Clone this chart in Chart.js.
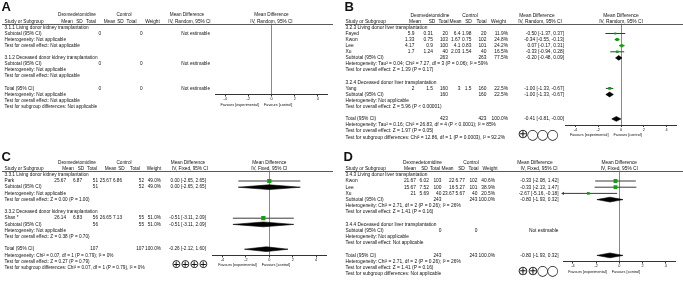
<!DOCTYPE html>
<html>
<head>
<meta charset="utf-8">
<script src="https://cdn.jsdelivr.net/npm/chart.js@4.4.1/dist/chart.umd.min.js"></script>
<style>
  html, body { margin: 0; padding: 0; background: #fff; }
  body { width: 683px; height: 302px; position: relative; overflow: hidden; }
  canvas { position: absolute; }
</style>
</head>
<body>
<canvas id="panelA" width="341" height="150" style="left:0;top:0"></canvas>
<canvas id="panelB" width="341" height="150" style="left:342px;top:0"></canvas>
<canvas id="panelC" width="341" height="152" style="left:0;top:150px"></canvas>
<canvas id="panelD" width="341" height="152" style="left:342px;top:150px"></canvas>
<script>
// ---------- Shared labels ----------
const HEAD_TOP = ['Dexmedetomidine', 'Control', 'Mean Difference'];
const HEAD_COLS = ['Study or Subgroup', 'Mean', 'SD', 'Total', 'Mean', 'SD', 'Total', 'Weight'];
const FAVOURS = ['Favours [experimental]', 'Favours [control]'];
const X_TICKS = [-4, -2, 0, 2, 4];

// ---------- Panel A: kidney, random effects (no studies) ----------
const aMethod = 'IV, Random, 95% CI';
const aGroups = ['3.1.1 Living donor kidney transplantation', '3.1.2 Deceased donor kidney transplantation'];
const aSubExpN = [0, 0];
const aSubCtlN = [0, 0];
const aSubWeight = [null, null];
const aSubMd = [null, null];
const aSubLo = [null, null];
const aSubHi = [null, null];
const aSubHet = ['Heterogeneity: Not applicable', 'Heterogeneity: Not applicable'];
const aSubTest = ['Test for overall effect: Not applicable', 'Test for overall effect: Not applicable'];
const aTotalN = [0, 0];
const aTotalEffect = [null, null, null];
const aTotalNotes = ['Heterogeneity: Not applicable', 'Test for overall effect: Not applicable',
  'Test for subgroup differences: Not applicable'];

// ---------- Panel B: liver, random effects ----------
const bMethod = 'IV, Random, 95% CI';
const bGroups = ['3.2.3 Living donor liver transplantation', '3.2.4 Deceased donor liver transplantation'];
const bStudy = ['Fayed', 'Kwon', 'Lee', 'Xu', 'Yang'];
const bGroupOf = [0, 0, 0, 0, 1];
const bExpMean = [5.9, 1.33, 4.17, 1.7, 2];
const bExpSd = [0.31, 0.75, 0.9, 1.24, 1.5];
const bExpN = [20, 103, 100, 40, 160];
const bCtlMean = [6.4, 1.67, 4.1, 2.03, 3];
const bCtlSd = [1.98, 0.75, 0.83, 1.54, 1.5];
const bCtlN = [20, 102, 101, 40, 160];
const bWeight = [11.9, 24.8, 24.2, 16.5, 22.5];
const bMd = [-0.50, -0.34, 0.07, -0.33, -1.00];
const bLo = [-1.37, -0.55, -0.17, -0.94, -1.33];
const bHi = [0.37, -0.13, 0.31, 0.28, -0.67];
const bSubExpN = [263, 160];
const bSubCtlN = [263, 160];
const bSubWeight = [77.5, 22.5];
const bSubMd = [-0.20, -1.00];
const bSubLo = [-0.48, -1.33];
const bSubHi = [0.09, -0.67];
const bSubHet = ['Heterogeneity: Tau² = 0.04; Chi² = 7.27, df = 3 (P = 0.06); I² = 59%', 'Heterogeneity: Not applicable'];
const bSubTest = ['Test for overall effect: Z = 1.39 (P = 0.17)', 'Test for overall effect: Z = 5.96 (P < 0.00001)'];
const bTotalN = [423, 423];
const bTotalEffect = [-0.41, -0.81, -0.003];
const bTotalNotes = ['Heterogeneity: Tau² = 0.16; Chi² = 26.83, df = 4 (P < 0.0001); I² = 85%',
  'Test for overall effect: Z = 1.97 (P = 0.05)',
  'Test for subgroup differences: Chi² = 12.86, df = 1 (P = 0.0003), I² = 92.2%'];
const bCertainty = 1;

// ---------- Panel C: kidney, fixed effect ----------
const cMethod = 'IV, Fixed, 95% CI';
const cGroups = ['3.3.1 Living donor kidney transplantation', '3.3.2 Deceased donor kidney transplantation'];
const cStudy = ['Park', 'Shan *'];
const cGroupOf = [0, 1];
const cExpMean = [25.67, 26.14];
const cExpSd = [6.87, 6.83];
const cExpN = [51, 56];
const cCtlMean = [25.67, 26.65];
const cCtlSd = [6.86, 7.13];
const cCtlN = [52, 55];
const cWeight = [49.0, 51.0];
const cMd = [0.00, -0.51];
const cLo = [-2.65, -3.11];
const cHi = [2.65, 2.09];
const cSubExpN = [51, 56];
const cSubCtlN = [52, 55];
const cSubWeight = [49.0, 51.0];
const cSubMd = [0.00, -0.51];
const cSubLo = [-2.65, -3.11];
const cSubHi = [2.65, 2.09];
const cSubHet = ['Heterogeneity: Not applicable', 'Heterogeneity: Not applicable'];
const cSubTest = ['Test for overall effect: Z = 0.00 (P = 1.00)', 'Test for overall effect: Z = 0.38 (P = 0.70)'];
const cTotalN = [107, 107];
const cTotalEffect = [-0.26, -2.12, 1.60];
const cTotalNotes = ['Heterogeneity: Chi² = 0.07, df = 1 (P = 0.79); I² = 0%',
  'Test for overall effect: Z = 0.27 (P = 0.79)',
  'Test for subgroup differences: Chi² = 0.07, df = 1 (P = 0.79), I² = 0%'];
const cCertainty = 4;

// ---------- Panel D: liver, fixed effect ----------
const dMethod = 'IV, Fixed, 95% CI';
const dGroups = ['3.4.3 Living donor liver transplantation', '3.4.4 Deceased donor liver transplantation'];
const dStudy = ['Kwon', 'Lee', 'Xu'];
const dGroupOf = [0, 0, 0];
const dExpMean = [21.67, 15.67, 21];
const dExpSd = [6.02, 7.52, 5.69];
const dExpN = [103, 100, 40];
const dCtlMean = [22, 16, 23.67];
const dCtlSd = [6.77, 5.27, 5.67];
const dCtlN = [102, 101, 40];
const dWeight = [40.6, 38.9, 20.5];
const dMd = [-0.33, -0.33, -2.67];
const dLo = [-2.08, -2.13, -5.16];
const dHi = [1.42, 1.47, -0.18];
const dSubExpN = [243, 0];
const dSubCtlN = [243, 0];
const dSubWeight = [100.0, null];
const dSubMd = [-0.80, null];
const dSubLo = [-1.93, null];
const dSubHi = [0.32, null];
const dSubHet = ['Heterogeneity: Chi² = 2.71, df = 2 (P = 0.26); I² = 26%', 'Heterogeneity: Not applicable'];
const dSubTest = ['Test for overall effect: Z = 1.41 (P = 0.16)', 'Test for overall effect: Not applicable'];
const dTotalN = [243, 243];
const dTotalEffect = [-0.80, -1.93, 0.32];
const dTotalNotes = ['Heterogeneity: Chi² = 2.71, df = 2 (P = 0.26); I² = 26%',
  'Test for overall effect: Z = 1.41 (P = 0.16)',
  'Test for subgroup differences: Not applicable'];
const dCertainty = 2;

// ---------- Look ----------
const FAMILY = '"Liberation Sans", Arial, sans-serif';
const SMALL = 3.8;
const GREEN = '#12a012';
const INK = '#111';
const X_MAX = 4.85;     // axis runs a bit past the outer ticks
const Y_MIN = 0.38;     // header rule sits just above row 1
const AXIS_H = 20;

Chart.defaults.font.family = FAMILY;

// per-panel geometry (canvas-relative px)
const layoutA = { letter: 'A', font: 4.7, w: 341, h: 150, y1: 27.4, rowH: 6.1, unit: 11.6, zeroX: 271.5, nameX: 4.5, letterX: 1.5, letterY: 10.5, lineX: [2, 333],
  cols: { n1: 101, n2: 142.5, ci: 210 },
  heads: { exp: 77, ctl: 124, md: 187, mean1: 67, sd1: 79.5, n1: 91, mean2: 109.5, sd2: 120.5, n2: 131.5, weight: 152.5, ci: 189.5 } };
const layoutB = { letter: 'B', font: 4.85, w: 341, h: 150, y1: 27.4, rowH: 6.1, unit: 11.4, zeroX: 279, nameX: 3.5, letterX: 2.5, letterY: 10.5, lineX: [3, 341],
  cols: { mean1: 72.5, sd1: 91, n1: 106, mean2: 118.5, sd2: 129.5, n2: 144.5, weight: 166, ci: 222 },
  heads: { exp: 88, ctl: 128, md: 195, mean1: 73, sd1: 90, n1: 101.5, mean2: 113.5, sd2: 126.5, n2: 139.5, weight: 156.5, ci: 198 },
  gradeX: 176, gradePitch: 10 };
const layoutC = { letter: 'C', font: 4.7, w: 341, h: 152, y1: 24.8, rowH: 6.2, unit: 11.7, zeroX: 269.3, nameX: 4.5, letterX: 1.5, letterY: 11, lineX: [2, 333],
  cols: { mean1: 66, sd1: 82, n1: 98, mean2: 111.5, sd2: 122, n2: 144, weight: 161, ci: 206 },
  heads: { exp: 77, ctl: 124, md: 188, mean1: 68, sd1: 81, n1: 92, mean2: 110.5, sd2: 121.5, n2: 135, weight: 154, ci: 190 },
  gradeX: 172, gradePitch: 9 };
const layoutD = { letter: 'D', font: 4.85, w: 341, h: 152, y1: 24.8, rowH: 6.2, unit: 11.6, zeroX: 277.3, nameX: 3.5, letterX: 1.5, letterY: 11, lineX: [3, 341],
  cols: { mean1: 74, sd1: 87, n1: 99.5, mean2: 112.5, sd2: 123, n2: 135.5, weight: 153, ci: 216.5 },
  heads: { exp: 80.5, ctl: 129, md: 193, mean1: 68, sd1: 82.5, n1: 93, mean2: 105.5, sd2: 119.5, n2: 131.5, weight: 148, ci: 197 },
  gradeX: 176, gradePitch: 10 };

// ---------- Row builder ----------
function ciText(m, lo, hi) {
  return `${m.toFixed(2)} [${lo.toFixed(2)}, ${hi.toFixed(2)}]`;
}

function buildRows(d) {
  const rows = [], studies = [], diamonds = [];
  let r = 1;
  const summary = (label, n1, n2, w, m, lo, hi) => {
    const cells = { name: label, n1: String(n1), n2: String(n2) };
    if (m === null) {
      cells.ci = 'Not estimable';
    } else {
      cells.weight = w.toFixed(1) + '%';
      cells.ci = ciText(m, lo, hi);
      diamonds.push({ r, m, lo, hi });
    }
    rows.push({ r, cells });
  };

  d.groups.forEach((g, gi) => {
    rows.push({ r: r++, cells: { name: g } });
    d.study.forEach((s, i) => {
      if (d.groupOf[i] !== gi) return;
      rows.push({ r, cells: {
        name: s,
        mean1: String(d.expMean[i]), sd1: String(d.expSd[i]), n1: String(d.expN[i]),
        mean2: String(d.ctlMean[i]), sd2: String(d.ctlSd[i]), n2: String(d.ctlN[i]),
        weight: d.weight[i].toFixed(1) + '%',
        ci: ciText(d.md[i], d.lo[i], d.hi[i])
      } });
      studies.push({ r, m: d.md[i], lo: d.lo[i], hi: d.hi[i], w: d.weight[i] });
      r++;
    });
    summary('Subtotal (95% CI)', d.subExpN[gi], d.subCtlN[gi], d.subWeight[gi], d.subMd[gi], d.subLo[gi], d.subHi[gi]);
    r++;
    rows.push({ r: r++, cells: { name: d.subHet[gi] } });
    rows.push({ r: r++, cells: { name: d.subTest[gi] } });
    r++; // blank line
  });

  const totalRow = r;
  const [tm, tlo, thi] = d.totalEffect;
  summary('Total (95% CI)', d.totalN[0], d.totalN[1], tm === null ? null : 100, tm, tlo, thi);
  r++;
  d.totalNotes.forEach(t => rows.push({ r: r++, cells: { name: t } }));
  return { rows, studies, diamonds, totalRow };
}

// ---------- Table text plugin ----------
function tablePlugin(d, lay, built) {
  return {
    id: 'forestTable',
    afterDraw(chart) {
      const { ctx, chartArea, scales: { x, y } } = chart;
      const zx = x.getPixelForValue(0);
      const axisY = chartArea.bottom;
      const body = `${lay.font}px ${FAMILY}`;
      const put = (t, px, py, align, font) => {
        ctx.font = font;
        ctx.textAlign = align;
        ctx.fillText(t, px, py);
      };

      ctx.save();
      ctx.fillStyle = INK;

      // panel letter
      ctx.textBaseline = 'alphabetic';
      put(lay.letter, lay.letterX, lay.letterY, 'left', `bold 13px ${FAMILY}`);

      ctx.textBaseline = 'middle';
      // header rows
      const h = lay.heads, yTop = y.getPixelForValue(-1), yCols = y.getPixelForValue(0);
      put(HEAD_TOP[0], h.exp, yTop, 'center', body);
      put(HEAD_TOP[1], h.ctl, yTop, 'center', body);
      put(HEAD_TOP[2], h.md, yTop, 'center', body);
      put(HEAD_TOP[2], zx, yTop, 'center', body);
      put(HEAD_COLS[0], lay.nameX, yCols, 'left', body);
      ['mean1', 'sd1', 'n1', 'mean2', 'sd2', 'n2', 'weight'].forEach((k, i) => {
        put(HEAD_COLS[i + 1], h[k], yCols, 'center', body);
      });
      put(d.method, h.ci, yCols, 'center', body);
      put(d.method, zx, yCols, 'center', body);

      // header rule
      ctx.strokeStyle = '#5a5a5a';
      ctx.lineWidth = 1;
      ctx.beginPath();
      const ly = Math.round(chartArea.top) + 0.5;
      ctx.moveTo(lay.lineX[0], ly);
      ctx.lineTo(lay.lineX[1], ly);
      ctx.stroke();

      // body rows
      built.rows.forEach(row => {
        const py = y.getPixelForValue(row.r);
        Object.entries(row.cells).forEach(([k, t]) => {
          if (k === 'name') put(t, lay.nameX, py, 'left', body);
          else put(t, lay.cols[k], py, 'right', body);
        });
      });

      // favours labels under the axis
      const fy = axisY + 10;
      put(FAVOURS[0], zx - 12.5, fy, 'right', `${SMALL}px ${FAMILY}`);
      put(FAVOURS[1], zx - 7.5, fy, 'left', `${SMALL}px ${FAMILY}`);

      // GRADE certainty symbols
      if (d.certainty) {
        ctx.textAlign = 'center';
        for (let i = 0; i < 4; i++) {
          const plus = i < d.certainty;
          ctx.font = `${plus ? lay.gradePitch * 1.3 : lay.gradePitch * 1.05}px "DejaVu Sans"`;
          ctx.fillText(plus ? '⊕' : '◯', lay.gradeX + lay.gradePitch * (i + 0.5), fy);
        }
      }
      ctx.restore();
    }
  };
}

// ---------- Forest chart ----------
function forestChart(id, d, lay) {
  const built = buildRows(d);
  const axisRow = built.totalRow + 1;
  const top = lay.y1 - (1 - Y_MIN) * lay.rowH;
  const bottom = lay.y1 + (axisRow - 1) * lay.rowH;
  const left = lay.zeroX - X_MAX * lay.unit;
  const right = lay.zeroX + X_MAX * lay.unit;
  const half = 2.4 / lay.rowH;

  const datasets = [];
  built.studies.forEach(s => {
    datasets.push({
      data: [{ x: Math.max(s.lo, -X_MAX), y: s.r }, { x: Math.min(s.hi, X_MAX), y: s.r }],
      showLine: true, borderColor: '#3a3a3a', borderWidth: 1, pointRadius: 0, order: 2
    });
    if (s.lo < -X_MAX) {
      datasets.push({
        data: [{ x: -X_MAX, y: s.r }], pointStyle: 'triangle', rotation: -90, pointRadius: 1.8,
        backgroundColor: '#3a3a3a', borderWidth: 0, clip: false, order: 1
      });
    }
    datasets.push({
      data: [{ x: s.m, y: s.r }], pointStyle: 'rect', pointRadius: 0.6 * Math.sqrt(s.w) / Math.SQRT2,
      backgroundColor: GREEN, borderWidth: 0, order: 0
    });
  });
  built.diamonds.forEach(m => {
    datasets.push({
      data: [{ x: m.lo, y: m.r }, { x: m.m, y: m.r - half }, { x: m.hi, y: m.r }, { x: m.m, y: m.r + half }, { x: m.lo, y: m.r }],
      showLine: true, fill: 'shape', backgroundColor: '#000', borderColor: '#000', borderWidth: 0.6,
      pointRadius: 0, order: 0
    });
  });

  return new Chart(document.getElementById(id), {
    type: 'scatter',
    data: { datasets },
    options: {
      responsive: false,
      animation: false,
      events: [],
      layout: { padding: { left, right: lay.w - right, top, bottom: lay.h - bottom - AXIS_H } },
      plugins: { legend: { display: false }, tooltip: { enabled: false } },
      scales: {
        x: {
          type: 'linear', min: -X_MAX, max: X_MAX,
          afterBuildTicks: sc => { sc.ticks = X_TICKS.map(v => ({ value: v })); },
          afterFit: sc => { sc.height = AXIS_H; },
          ticks: { font: { size: SMALL }, color: '#222', padding: 0.5, maxRotation: 0, autoSkip: false, callback: v => String(v) },
          grid: {
            color: c => (c.tick && c.tick.value === 0) ? '#8a8a8a' : 'rgba(0,0,0,0)',
            tickColor: '#333', tickLength: 2, drawTicks: true
          },
          border: { display: true, color: '#333', width: 1 }
        },
        y: { type: 'linear', min: Y_MIN, max: axisRow, reverse: true, display: false }
      }
    },
    plugins: [tablePlugin(d, lay, built)]
  });
}

// ---------- Assemble panels ----------
forestChart('panelA', {
  method: aMethod, groups: aGroups, study: [], groupOf: [],
  subExpN: aSubExpN, subCtlN: aSubCtlN, subWeight: aSubWeight, subMd: aSubMd, subLo: aSubLo, subHi: aSubHi,
  subHet: aSubHet, subTest: aSubTest, totalN: aTotalN, totalEffect: aTotalEffect, totalNotes: aTotalNotes, certainty: null
}, layoutA);

forestChart('panelB', {
  method: bMethod, groups: bGroups, study: bStudy, groupOf: bGroupOf,
  expMean: bExpMean, expSd: bExpSd, expN: bExpN, ctlMean: bCtlMean, ctlSd: bCtlSd, ctlN: bCtlN,
  weight: bWeight, md: bMd, lo: bLo, hi: bHi,
  subExpN: bSubExpN, subCtlN: bSubCtlN, subWeight: bSubWeight, subMd: bSubMd, subLo: bSubLo, subHi: bSubHi,
  subHet: bSubHet, subTest: bSubTest, totalN: bTotalN, totalEffect: bTotalEffect, totalNotes: bTotalNotes, certainty: bCertainty
}, layoutB);

forestChart('panelC', {
  method: cMethod, groups: cGroups, study: cStudy, groupOf: cGroupOf,
  expMean: cExpMean, expSd: cExpSd, expN: cExpN, ctlMean: cCtlMean, ctlSd: cCtlSd, ctlN: cCtlN,
  weight: cWeight, md: cMd, lo: cLo, hi: cHi,
  subExpN: cSubExpN, subCtlN: cSubCtlN, subWeight: cSubWeight, subMd: cSubMd, subLo: cSubLo, subHi: cSubHi,
  subHet: cSubHet, subTest: cSubTest, totalN: cTotalN, totalEffect: cTotalEffect, totalNotes: cTotalNotes, certainty: cCertainty
}, layoutC);

forestChart('panelD', {
  method: dMethod, groups: dGroups, study: dStudy, groupOf: dGroupOf,
  expMean: dExpMean, expSd: dExpSd, expN: dExpN, ctlMean: dCtlMean, ctlSd: dCtlSd, ctlN: dCtlN,
  weight: dWeight, md: dMd, lo: dLo, hi: dHi,
  subExpN: dSubExpN, subCtlN: dSubCtlN, subWeight: dSubWeight, subMd: dSubMd, subLo: dSubLo, subHi: dSubHi,
  subHet: dSubHet, subTest: dSubTest, totalN: dTotalN, totalEffect: dTotalEffect, totalNotes: dTotalNotes, certainty: dCertainty
}, layoutD);
</script>
</body>
</html>
